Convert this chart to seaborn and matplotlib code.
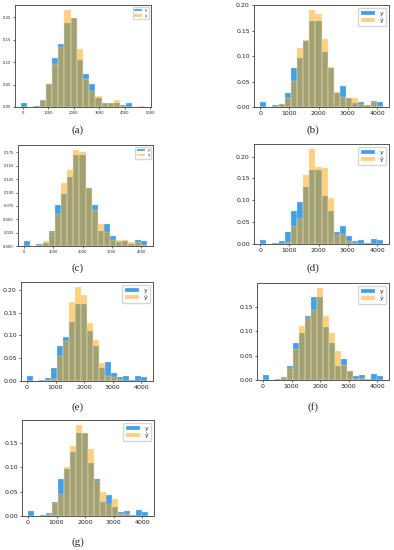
import numpy as np
import pandas as pd
import matplotlib
matplotlib.use("Agg")
import matplotlib.pyplot as plt
import seaborn as sns

# bin edges (20 bins)
edges_a = list(np.linspace(-65, 4795, 21))
edges = list(np.linspace(0, 4200, 21))

# panel (a) - fraction per bin
y_a = [0.010, 0.000, 0.003, 0.016, 0.052, 0.110, 0.141, 0.187, 0.198, 0.104,
       0.073, 0.052, 0.021, 0.010, 0.010, 0.009, 0.005, 0.010, 0.000, 0.000]
yhat_a = [0.000, 0.000, 0.000, 0.016, 0.052, 0.095, 0.134, 0.216, 0.198, 0.130,
          0.063, 0.036, 0.024, 0.010, 0.008, 0.015, 0.003, 0.000, 0.000, 0.002]

# true values for panels (b)-(g)
y_true = [0.010, 0.000, 0.003, 0.006, 0.028, 0.076, 0.097, 0.130, 0.170, 0.170,
          0.109, 0.076, 0.028, 0.042, 0.018, 0.008, 0.010, 0.003, 0.012, 0.009]

yhat_b = [0.000, 0.000, 0.002, 0.005, 0.017, 0.052, 0.116, 0.132, 0.191, 0.183,
          0.134, 0.078, 0.030, 0.020, 0.018, 0.018, 0.005, 0.004, 0.010, 0.002]
yhat_c = [0.000, 0.000, 0.002, 0.009, 0.027, 0.060, 0.118, 0.143, 0.180, 0.176,
          0.109, 0.068, 0.042, 0.027, 0.011, 0.012, 0.012, 0.008, 0.007, 0.001]
yhat_d = [0.000, 0.000, 0.000, 0.000, 0.005, 0.042, 0.057, 0.158, 0.218, 0.177,
          0.174, 0.106, 0.020, 0.024, 0.008, 0.003, 0.000, 0.000, 0.000, 0.000]
yhat_e = [0.000, 0.000, 0.000, 0.002, 0.004, 0.054, 0.088, 0.174, 0.207, 0.188,
          0.127, 0.091, 0.040, 0.011, 0.008, 0.004, 0.000, 0.000, 0.000, 0.000]
yhat_f = [0.000, 0.000, 0.002, 0.007, 0.024, 0.063, 0.110, 0.127, 0.143, 0.189,
          0.131, 0.096, 0.059, 0.030, 0.019, 0.003, 0.005, 0.003, 0.000, 0.000]
yhat_g = [0.000, 0.000, 0.000, 0.004, 0.026, 0.046, 0.100, 0.143, 0.187, 0.170,
          0.137, 0.071, 0.049, 0.024, 0.034, 0.004, 0.005, 0.000, 0.000, 0.000]

panel_labels = ["(a)", "(b)", "(c)", "(d)", "(e)", "(f)", "(g)"]

sns.set_style("ticks")
W, H = 394, 550
fig = plt.figure(figsize=(W / 100, H / 100), dpi=100)

# axes boxes in pixels: left, right, top, bottom
boxes = [(15, 151, 5, 107), (254, 389, 5, 107),
         (18, 153, 145, 246), (254, 389, 144, 244),
         (21, 153, 282, 381), (257, 389, 283, 380),
         (22, 154, 420, 516)]
label_pos = [(78, 130), (313, 130), (78, 268), (313, 268),
             (78, 407), (313, 407), (78, 542)]

panels = [(edges_a, y_a, yhat_a, 2.7),
          (edges, y_true, yhat_b, 4.5),
          (edges, y_true, yhat_c, 2.6),
          (edges, y_true, yhat_d, 4.5),
          (edges, y_true, yhat_e, 4.5),
          (edges, y_true, yhat_f, 4.5),
          (edges, y_true, yhat_g, 4.5)]

for i, (e, yv, yh, fs) in enumerate(panels):
    l, r, t, b = boxes[i]
    ax = fig.add_axes([l / W, 1 - b / H, (r - l) / W, (b - t) / H])
    centers = [(e[k] + e[k + 1]) / 2 for k in range(len(e) - 1)]
    df = pd.DataFrame({"value": centers, "y": yv, "yhat": yh})
    sns.histplot(data=df, x="value", weights="y", bins=e, color="#1f8fe5",
                 alpha=0.85, linewidth=0.2, edgecolor="#e8e8e8", label="y", ax=ax)
    sns.histplot(data=df, x="value", weights="yhat", bins=e, color="#ffa500",
                 alpha=0.5, linewidth=0.2, edgecolor="#e8e8e8", label="ŷ", ax=ax)
    ax.set_xlabel("")
    ax.set_ylabel("")
    ax.tick_params(labelsize=fs, length=1.5, width=0.5, pad=1.5, colors="#222222")
    for s in ax.spines.values():
        s.set_color("#555555")
        s.set_linewidth(0.7)
    ax.legend(loc="upper right", fontsize=fs, handlelength=2.2,
              borderpad=0.4, labelspacing=0.3)
    fig.text(label_pos[i][0] / W, 1 - label_pos[i][1] / H, panel_labels[i],
             ha="center", va="center", fontsize=8, family="Liberation Serif")

fig.savefig("out.png", dpi=100)
